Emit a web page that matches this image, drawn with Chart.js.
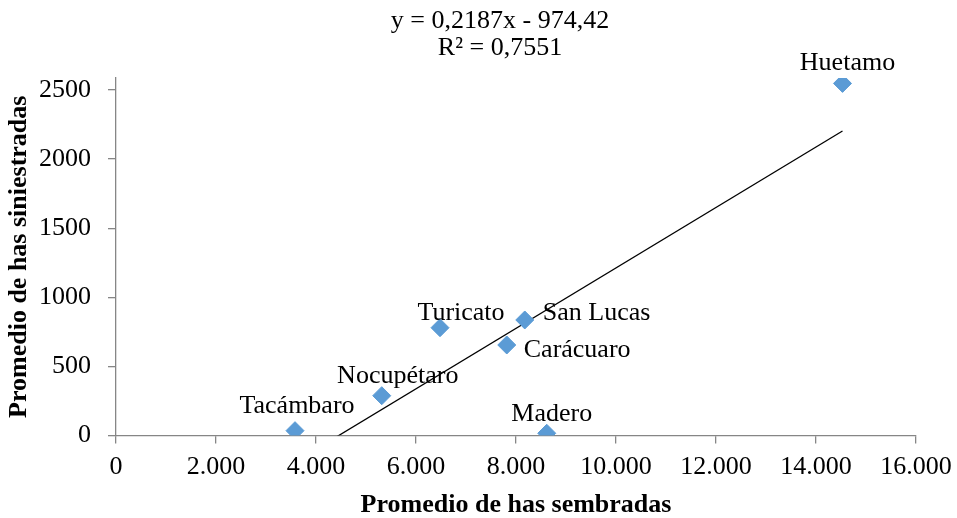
<!DOCTYPE html>
<html>
<head>
<meta charset="utf-8">
<script src="https://cdn.jsdelivr.net/npm/chart.js@4"></script>
<style>
  html, body { margin: 0; padding: 0; background: #fff; }
  #wrap { width: 957px; height: 518px; }
</style>
</head>
<body>
<div id="wrap"><canvas id="scatterChart" width="957" height="518"></canvas></div>
<script>
// --- Data ---
const municipios = ['Huetamo', 'Turicato', 'San Lucas', 'Carácuaro', 'Nocupétaro', 'Tacámbaro', 'Madero'];
const sembradas = [14530, 6480, 8175, 7815, 5315, 3580, 8615];
const siniestradas = [2548, 780, 836, 655, 288, 35, 16];

// trendline from Excel
const slope = 0.2187;
const intercept = -974.42;
const trendLabel = ['y = 0,2187x - 974,42', 'R² = 0,7551'];

const xTicks = [0, 2000, 4000, 6000, 8000, 10000, 12000, 14000, 16000];
const yTicks = [0, 500, 1000, 1500, 2000, 2500];

const points = municipios.map((m, i) => ({ x: sembradas[i], y: siniestradas[i] }));
const xMin = Math.min(...sembradas);
const xMax = Math.max(...sembradas);
const trendPoints = [xMin, xMax].map(x => ({ x: x, y: slope * x + intercept }));

// label placement per point (dx, dy, align)
const labelPos = {
    'Huetamo': [5, -20, 'center'],
    'Turicato': [21, -15, 'center'],
    'San Lucas': [18, -7, 'left'],
    'Carácuaro': [17, 5, 'left'],
    'Nocupétaro': [16, -20, 'center'],
    'Tacámbaro': [2, -24, 'center'],
    'Madero': [5, -19, 'center']
};

const serif = '"Liberation Serif", "Times New Roman", serif';

// --- Plugins ---
const pointLabelsPlugin = {
    id: 'pointLabels',
    afterDatasetsDraw(chart) {
        const meta = chart.getDatasetMeta(0);
        const ctx = chart.ctx;
        ctx.save();
        ctx.font = '26px ' + serif;
        ctx.fillStyle = '#000';
        ctx.textBaseline = 'middle';
        meta.data.forEach((el, i) => {
            const p = labelPos[municipios[i]];
            ctx.textAlign = p[2];
            ctx.fillText(municipios[i], el.x + p[0], el.y + p[1]);
        });
        ctx.restore();
    }
};

const trendTextPlugin = {
    id: 'trendText',
    afterDraw(chart) {
        const ctx = chart.ctx;
        ctx.save();
        ctx.font = '26px ' + serif;
        ctx.fillStyle = '#000';
        ctx.textAlign = 'center';
        ctx.textBaseline = 'middle';
        ctx.fillText(trendLabel[0], 500, 21);
        ctx.fillText(trendLabel[1], 500, 48);
        ctx.restore();
    }
};

const ctx = document.getElementById('scatterChart').getContext('2d');

new Chart(ctx, {
    type: 'scatter',
    data: {
        datasets: [
            {
                label: 'Municipios',
                data: points,
                pointStyle: 'rectRot',
                pointRadius: 9,
                pointHoverRadius: 9,
                backgroundColor: '#5B9BD5',
                borderColor: '#5B9BD5',
                borderWidth: 1
            },
            {
                label: 'Lineal',
                type: 'line',
                data: trendPoints,
                borderColor: '#000',
                borderWidth: 1.3,
                pointRadius: 0,
                fill: false
            }
        ]
    },
    plugins: [pointLabelsPlugin, trendTextPlugin],
    options: {
        responsive: false,
        animation: false,
        layout: { padding: { top: 78, right: 41, left: 0, bottom: 0 } },
        plugins: {
            legend: { display: false },
            tooltip: { enabled: false }
        },
        scales: {
            x: {
                type: 'linear',
                min: 0,
                max: 16000,
                afterFit(scale) {
                    scale.height = 82.5;
                    scale.paddingLeft = 0;
                    scale.paddingRight = 0;
                },
                afterBuildTicks(scale) { scale.ticks = xTicks.map(v => ({ value: v })); },
                border: { color: '#868686', width: 1.3 },
                grid: { display: true, drawOnChartArea: false, color: '#868686', tickLength: 8, lineWidth: 1.3 },
                ticks: {
                    color: '#000',
                    font: { family: serif, size: 26 },
                    padding: 8,
                    maxRotation: 0,
                    autoSkip: false,
                    callback: v => v === 0 ? '0' : v.toLocaleString('de-DE')
                },
                title: {
                    display: true,
                    text: 'Promedio de has sembradas',
                    color: '#000',
                    font: { family: serif, size: 26, weight: 'bold', lineHeight: 1 },
                    padding: { top: 0, bottom: 0 }
                }
            },
            y: {
                type: 'linear',
                min: 0,
                max: 2587,
                afterFit(scale) {
                    scale.width = 116;
                    scale.paddingTop = 0;
                    scale.paddingBottom = 0;
                },
                afterBuildTicks(scale) { scale.ticks = yTicks.map(v => ({ value: v })); },
                border: { color: '#868686', width: 1.3 },
                grid: { display: true, drawOnChartArea: false, color: '#868686', tickLength: 8, lineWidth: 1.3 },
                ticks: {
                    color: '#000',
                    font: { family: serif, size: 26 },
                    padding: 17,
                    autoSkip: false,
                    callback: v => String(v)
                },
                title: {
                    display: true,
                    text: 'Promedio de has siniestradas',
                    color: '#000',
                    font: { family: serif, size: 26, weight: 'bold' },
                    padding: { top: 4, bottom: 0 }
                }
            }
        }
    }
});
</script>
</body>
</html>
